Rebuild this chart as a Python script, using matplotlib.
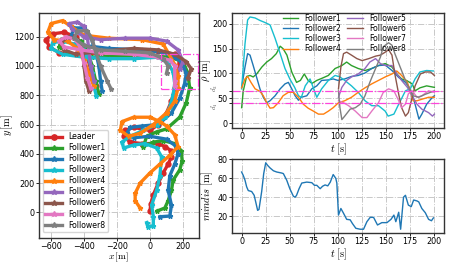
import numpy as np
import matplotlib
matplotlib.use('Agg')
import matplotlib.pyplot as plt
from matplotlib.patches import Rectangle
from matplotlib.transforms import blended_transform_factory

plt.rcParams['mathtext.fontset'] = 'cm'
plt.rcParams['font.size'] = 6

OUT_PATH = 'out.png'
D1 = 40
D2 = 65

NAMES = ['Leader', 'Follower1', 'Follower2', 'Follower3', 'Follower4',
         'Follower5', 'Follower6', 'Follower7', 'Follower8']
COLORS = ['tab:red', 'tab:green', 'tab:blue', 'tab:cyan', 'tab:orange',
          'tab:purple', 'tab:brown', 'tab:pink', 'tab:gray']

# trajectories, x and y in metres
leader_x = [0, 5, 20, 50, 80, 110, 130, 130, 90, 50, -50, -120, -160, -150, -100, 0, 50, 100, 130, 150,
            160, 180, 150, 50, -100, -300, -450, -550, -610, -630, -590, -520, -450, -410, -380, -360, -340, -330]
leader_y = [10, 60, 120, 200, 270, 330, 380, 420, 450, 470, 470, 480, 520, 560, 580, 560, 600, 680, 760, 850,
            950, 1030, 1080, 1100, 1100, 1090, 1080, 1090, 1130, 1180, 1220, 1230, 1200, 1140, 1060, 980, 900, 860]

f1_x = [45, 90, 110, 130, 140, 180, 195, 190, 150, 80, 20, -40, -20, 40, 100, 180, 220, 240, 230, 200,
        120, 0, -200, -350, -480, -550, -540, -480, -420, -380, -350, -330, -310]
f1_y = [10, 30, 80, 150, 220, 290, 350, 420, 470, 490, 480, 450, 520, 550, 570, 650, 750, 850, 950, 1030,
        1060, 1070, 1070, 1060, 1080, 1130, 1180, 1200, 1170, 1100, 1000, 900, 810]

f2_x = [60, 120, 130, 110, 120, 150, 170, 160, 100, 0, -100, -140, -120, -50, 50, 130, 180, 210, 220, 190,
        100, -50, -250, -400, -480, -460, -400, -360, -330, -310, -300, -290]
f2_y = [-30, -25, 50, 150, 250, 330, 400, 450, 500, 520, 510, 540, 580, 590, 600, 680, 780, 880, 950, 1030,
        1090, 1110, 1120, 1140, 1200, 1260, 1260, 1200, 1100, 1000, 900, 830]

f3_x = [-20, -10, 20, 20, 10, 40, 60, 70, 40, -30, -100, -160, -170, -120, -40, 40, 90, 120, 140, 150,
        140, 110, 50, -100, -250, -400, -530, -600, -590, -530, -460, -400, -370, -350, -340, -325]
f3_y = [-70, -100, -90, -30, 50, 150, 250, 380, 440, 470, 460, 440, 480, 520, 560, 600, 650, 720, 800, 880,
        960, 1020, 1060, 1050, 1050, 1060, 1080, 1120, 1160, 1170, 1150, 1110, 1050, 950, 860, 795]

f4_x = [-60, -90, -90, -60, 0, 60, 120, 170, 150, 100, 60, 0, -100, -170, -180, -130, -60, 20, 100, 150,
        170, 170, 150, 80, -50, -250, -400, -480, -530, -600, -620, -580, -500, -440, -400, -370, -340]
f4_y = [30, 80, 130, 200, 270, 330, 390, 450, 530, 590, 620, 650, 650, 620, 560, 520, 540, 600, 680, 760,
        850, 930, 1010, 1150, 1180, 1190, 1210, 1270, 1310, 1290, 1230, 1180, 1170, 1120, 1040, 950, 860]

f5_x = [180, 200, 170, 100, 0, -150, -300, -400, -470, -490, -440, -400, -380, -370, -360, -340]
f5_y = [980, 1030, 1110, 1170, 1190, 1190, 1180, 1200, 1250, 1290, 1300, 1270, 1200, 1100, 1000, 900]

f6_x = [230, 250, 220, 150, 50, -100, -300, -450, -520, -540, -500, -440, -410, -400, -390, -370]
f6_y = [920, 980, 1030, 1080, 1110, 1120, 1100, 1080, 1110, 1160, 1200, 1180, 1110, 1000, 900, 830]

f7_x = [150, 150, 150, 120, 50, -100, -300, -420, -520, -550, -510, -450, -420, -400, -380, -360]
f7_y = [860, 900, 1000, 1040, 1060, 1080, 1090, 1110, 1130, 1170, 1200, 1180, 1120, 1020, 920, 850]

f8_x = [100, 110, 80, 0, -150, -300, -400, -460, -440, -380, -350, -330, -300, -260, -235]
f8_y = [950, 1000, 1050, 1090, 1100, 1110, 1140, 1190, 1240, 1240, 1180, 1100, 1000, 900, 840]

TRAJ_X = [leader_x, f1_x, f2_x, f3_x, f4_x, f5_x, f6_x, f7_x, f8_x]
TRAJ_Y = [leader_y, f1_y, f2_y, f3_y, f4_y, f5_y, f6_y, f7_y, f8_y]

# distance to leader rho [m] over time t [s]
rho1_t = [0, 1.7, 5.2, 8.7, 12, 15.6, 21, 26, 31, 36, 40, 43, 47, 52, 57, 61, 65, 69, 73, 78, 83, 90, 97,
          104, 109, 114, 121, 128, 135, 142, 149, 156, 161, 166, 171, 177, 180, 185, 192, 200]
rho1 = [31, 65, 94, 96, 93, 99, 113, 123, 130, 140, 155, 150, 137, 103, 82, 86, 99, 86, 80, 86, 90, 96, 110,
        116, 123, 116, 110, 106, 110, 116, 120, 113, 99, 89, 86, 79, 65, 71, 75, 72]

rho2_t = [0, 3.5, 6.2, 8.7, 12, 15.6, 19, 22.5, 26, 29.5, 34.7, 40, 45, 48.5, 52, 55.5, 59, 62, 67.6, 72.8,
          78, 83, 90, 95, 100, 107, 114, 121, 128, 135, 142, 149, 156, 163, 170, 175, 180, 184, 187, 192, 198, 200]
rho2 = [72, 113, 140, 137, 116, 92, 69, 52, 41, 45, 55, 69, 79, 82, 69, 55, 46, 52, 55, 69,
        75, 86, 87, 89, 86, 89, 94, 96, 101, 110, 116, 117, 106, 92, 82, 69, 38, 8, 18, 38, 52, 55]

rho3_t = [0, 3.5, 6.2, 8.7, 13.9, 19, 24, 29.5, 34.7, 40, 45, 50, 55, 59, 62, 66, 71, 75.5, 78, 83, 90, 97,
          102, 107, 114, 121, 128, 135, 142, 149, 152, 158, 163, 170, 175, 180, 185, 192, 199]
rho3 = [69, 160, 208, 214, 212, 207, 203, 198, 171, 140, 110, 89, 72, 55, 52, 75, 89, 65, 52, 69, 86, 96,
        93, 86, 75, 62, 45, 35, 35, 24, 14, 18, 38, 65, 69, 89, 103, 106, 105]

rho4_t = [0, 3.5, 6.2, 9.7, 14, 19, 22.5, 26, 29.5, 33, 38, 43, 48.5, 53.7, 59, 64, 69, 74.5, 79.7, 85, 90,
          95, 100.5, 107, 114, 121, 128, 135, 142, 149, 156, 161, 166, 172, 175, 178, 182, 187, 194, 200]
rho4 = [71, 89, 94, 82, 69, 64, 55, 41, 30, 31, 41, 55, 62, 62, 52, 38, 30, 24, 18, 18, 24,
        31, 41, 45, 52, 62, 71, 79, 86, 93, 99, 105, 96, 82, 65, 45, 45, 48, 52, 52]

rho5_t = [100.5, 104, 109, 114, 121, 128, 133, 139, 144, 149, 156, 161, 166, 172, 177, 182, 187, 194, 198, 200]
rho5 = [52, 72, 86, 93, 99, 110, 123, 130, 120, 116, 116, 99, 86, 72, 55, 38, 28, 21, 14, 18]

rho6_t = [100.5, 103, 105.7, 109, 114, 119.6, 125, 132, 139, 144, 149, 152.5, 156, 159, 163, 166, 170,
          173, 177, 180, 185.5, 190.6, 196, 200]
rho6 = [69, 113, 140, 143, 137, 130, 126, 130, 135, 137, 143, 148, 137, 99, 58, 31, 14,
        21, 52, 75, 99, 103, 103, 96]

rho7_t = [100.5, 105.7, 111, 118, 125, 130, 135, 142, 147, 152.5, 158, 163, 166, 170, 173, 177, 182, 187, 194, 200]
rho7 = [45, 41, 35, 24, 11, 11, 24, 41, 62, 69, 65, 45, 31, 38, 59, 65, 52, 55, 65, 62]

rho8_t = [100.5, 102, 104, 107, 112.6, 118, 123, 128, 133, 139, 144, 147, 152.5, 156, 159, 164.5, 170,
          175, 178, 183.8, 190.6, 196, 200]
rho8 = [65, 31, 7, 14, 28, 31, 38, 55, 82, 110, 133, 154, 162, 157, 140, 113, 86,
        65, 55, 52, 58, 62, 65]

RHO_T = [rho1_t, rho2_t, rho3_t, rho4_t, rho5_t, rho6_t, rho7_t, rho8_t]
RHO = [rho1, rho2, rho3, rho4, rho5, rho6, rho7, rho8]

# minimum distance between agents
mindis_t = [0, 1.7, 3.5, 5.2, 6.9, 10.4, 13, 14.6, 16.6, 18, 20.8, 22.9, 25, 27, 29.5, 33, 36.4, 41.6, 43.3,
            46.8, 50, 53.7, 55.5, 57, 59.6, 62.4, 67.6, 72.8, 75.5, 78, 81.5, 84, 86.6, 89.4, 92, 95, 97.7,
            98.8, 100.5, 103, 105.7, 109, 112.6, 115, 118.5, 123, 126.5, 130, 133.4, 136.9, 141, 145.5,
            150.8, 155, 158, 160, 163, 165, 168, 170, 173, 176, 178.5, 182, 183.8, 187, 190.6, 194, 197, 199]
mindis = [66.7, 63, 58, 51, 47, 46, 42, 35, 26, 27, 46, 65, 76.5, 73.7, 71, 68, 66.7, 65.6, 65,
          58, 49, 41, 40, 42, 49, 55, 56, 55.4, 52.6, 52.6, 49, 51.6, 53, 52, 56, 64, 60,
          55, 21, 28, 23, 16.5, 16, 12, 7, 6, 6, 14, 18.6, 18.6, 10.5, 13,
          13, 16.5, 21, 14, 24, 6, 40, 42, 31.6, 30, 37, 36, 35, 28, 23.5, 16.5, 15, 18]

T_TICKS = [0, 25, 50, 75, 100, 125, 150, 175, 200]


def style_axes(ax):
    ax.grid(True, linestyle='-.', color='#c8c8c8', linewidth=0.7)
    ax.set_axisbelow(True)
    for sp in ax.spines.values():
        sp.set_color('#333333')
        sp.set_linewidth(1.0)
    ax.tick_params(labelsize=5.8, length=2.2, width=0.6, pad=1.0)


def plot_trajectories(ax):
    for i, (xs, ys) in enumerate(zip(TRAJ_X, TRAJ_Y)):
        marker = 'o' if i == 0 else '*'
        ax.plot(xs, ys, color=COLORS[i], marker=marker, markersize=3.5, linewidth=2.4, label=NAMES[i])
    ax.add_patch(Rectangle((65, 840), 225, 245, fill=False, edgecolor='#ff44dd',
                           linestyle='-.', linewidth=0.9, zorder=5))
    ax.set_xlim(-673, 297)
    ax.set_ylim(-175, 1362)
    ax.set_xticks([-600, -400, -200, 0, 200])
    ax.set_yticks([0, 200, 400, 600, 800, 1000, 1200])
    ax.set_xlabel(r'$x\,[\mathrm{m}]$', fontsize=7)
    ax.set_ylabel(r'$y\,[\mathrm{m}]$', fontsize=7.5)
    ax.xaxis.set_label_coords(0.5, -0.055)
    ax.yaxis.set_label_coords(-0.15, 0.5)
    ax.legend(loc='lower left', fontsize=5.6, handlelength=2.2, borderpad=0.3,
              labelspacing=0.26, markerscale=1.1, bbox_to_anchor=(0.0, 0.01))


def plot_rho(ax):
    for i in range(8):
        ax.plot(RHO_T[i], RHO[i], color=COLORS[i + 1], linewidth=1.0, label=NAMES[i + 1])
    ax.axhline(D1, color='#ff44dd', linestyle='-.', linewidth=0.9)
    ax.axhline(D2, color='#ff44dd', linestyle='-.', linewidth=0.9)
    ax.set_xlim(-10, 210)
    ax.set_ylim(-10, 222)
    ax.set_xticks(T_TICKS)
    ax.set_yticks([0, D1, 50, D2, 100, 150, 200])
    ax.set_yticklabels(['0', '', '50', '', '100', '150', '200'])
    trans = blended_transform_factory(ax.transAxes, ax.transData)
    ax.text(-0.08, D2 + 5, r'$d_2$', transform=trans, rotation=90, fontsize=5,
            color='#555555', ha='center', va='center')
    ax.text(-0.08, D1 - 6, r'$d_1$', transform=trans, rotation=90, fontsize=5,
            color='#555555', ha='center', va='center')
    ax.set_xlabel(r'$t\;[\mathrm{s}]$', fontsize=7.5)
    ax.set_ylabel(r'$\rho\;[\mathrm{m}]$', fontsize=7.5)
    ax.xaxis.set_label_coords(0.5, -0.115)
    ax.yaxis.set_label_coords(-0.09, 0.5)
    ax.legend(loc='upper center', ncol=2, frameon=False, fontsize=5.5, handlelength=2.0,
              labelspacing=0.15, columnspacing=0.8, borderpad=0.2, bbox_to_anchor=(0.53, 1.04))


def plot_mindis(ax):
    ax.plot(mindis_t, mindis, color='tab:blue', linewidth=1.0)
    ax.set_xlim(-10, 210)
    ax.set_ylim(2, 80.5)
    ax.set_xticks(T_TICKS)
    ax.set_yticks([20, 40, 60, 80])
    ax.set_xlabel(r'$t\;[\mathrm{s}]$', fontsize=7.5)
    ax.set_ylabel(r'$mindis\;[\mathrm{m}]$', fontsize=7.5)
    ax.xaxis.set_label_coords(0.5, -0.18)
    ax.yaxis.set_label_coords(-0.08, 0.5)


def main():
    fig = plt.figure(figsize=(4.57, 2.63), dpi=100)
    ax_traj = fig.add_axes([39 / 457, 25 / 263, 160 / 457, 225 / 263])
    ax_rho = fig.add_axes([232 / 457, 135 / 263, 212 / 457, 115 / 263])
    ax_min = fig.add_axes([232 / 457, 30 / 263, 212 / 457, 74 / 263])

    for ax in (ax_traj, ax_rho, ax_min):
        style_axes(ax)

    plot_trajectories(ax_traj)
    plot_rho(ax_rho)
    plot_mindis(ax_min)

    fig.savefig(OUT_PATH, dpi=100)


if __name__ == "__main__":
    main()
